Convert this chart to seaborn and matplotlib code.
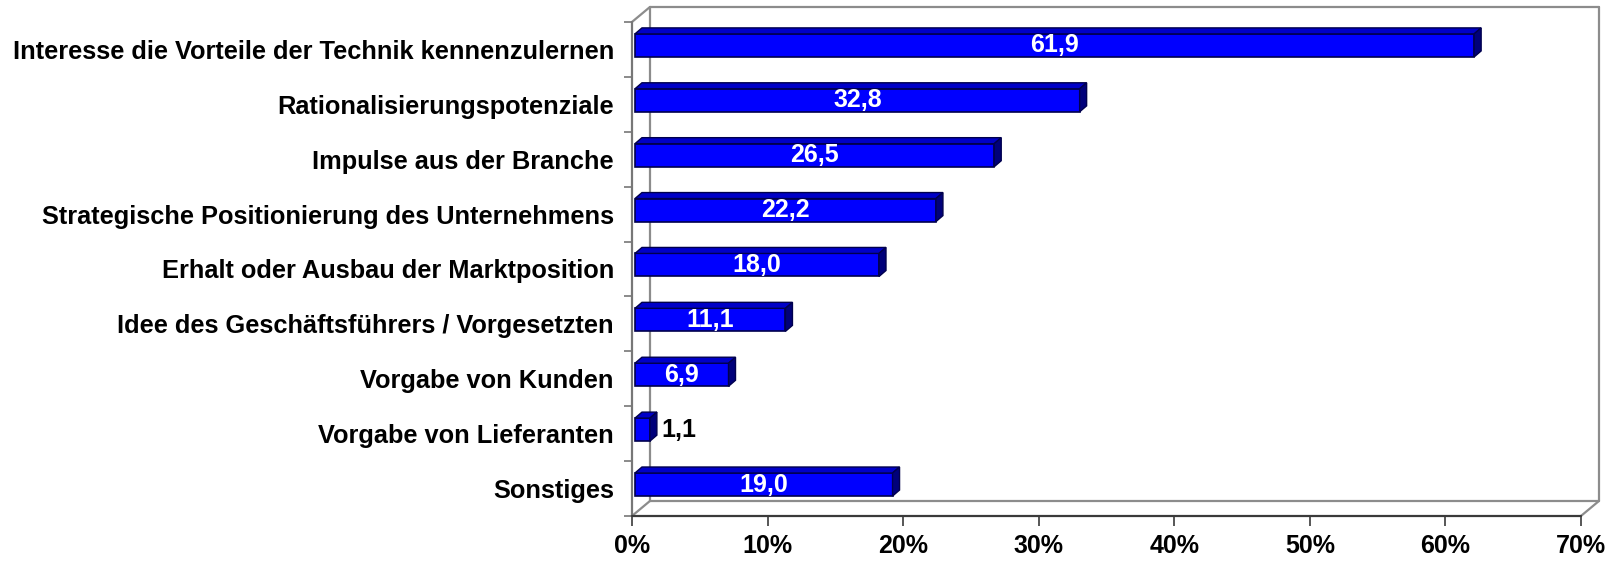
import matplotlib
matplotlib.use("Agg")
import matplotlib.pyplot as plt
import matplotlib.transforms as mtransforms
from matplotlib.patches import Polygon
import seaborn as sns
import pandas as pd

reasons = [
    "Interesse die Vorteile der Technik kennenzulernen",
    "Rationalisierungspotenziale",
    "Impulse aus der Branche",
    "Strategische Positionierung des Unternehmens",
    "Erhalt oder Ausbau der Marktposition",
    "Idee des Geschäftsführers / Vorgesetzten",
    "Vorgabe von Kunden",
    "Vorgabe von Lieferanten",
    "Sonstiges",
]
shares = [61.9, 32.8, 26.5, 22.2, 18.0, 11.1, 6.9, 1.1, 19.0]
x_ticks = [0, 10, 20, 30, 40, 50, 60, 70]
x_tick_labels = [f"{t}%" for t in x_ticks]

df = pd.DataFrame({"Grund": reasons, "Anteil": shares})

sns.set_theme(style="white")
plt.rcParams["font.family"] = ["Liberation Sans", "DejaVu Sans"]
plt.rcParams["font.weight"] = "bold"

fig = plt.figure(figsize=(16.2, 5.62), dpi=100)
fig.patch.set_facecolor("white")
ax = fig.add_axes([0.3901, 0.0819, 0.5858, 0.879])

sns.barplot(data=df, x="Anteil", y="Grund", orient="h", color="#0000ff",
            saturation=1, width=0.42, edgecolor="#00004d", linewidth=1.2, ax=ax)

x_max = x_ticks[-1]
n = len(reasons)
ax.set_xlim(0, x_max)
ax.set_ylim(n - 0.5, -0.5)
for s in ax.spines.values():
    s.set_visible(False)

# pixel -> data conversion for the pseudo 3D depth
px_x = ax.bbox.width / x_max
px_y = ax.bbox.height / n
wall_dx, wall_dy = 18 / px_x, 15 / px_y
bar_dx, bar_dy = 7 / px_x, 6 / px_y

# walls
wall_col = "#8c8c8c"
top, bot = -0.5, n - 0.5
kw = dict(color=wall_col, lw=1.6, clip_on=False, zorder=0.5)
ax.plot([wall_dx, wall_dx], [top - wall_dy, bot - wall_dy], **kw)
ax.plot([wall_dx, x_max + wall_dx], [top - wall_dy, top - wall_dy], **kw)
ax.plot([x_max + wall_dx, x_max + wall_dx], [top - wall_dy, bot - wall_dy], **kw)
ax.plot([wall_dx, x_max + wall_dx], [bot - wall_dy, bot - wall_dy], **kw)
ax.plot([0, wall_dx], [top, top - wall_dy], **kw)
ax.plot([0, wall_dx], [bot, bot - wall_dy], **kw)
ax.plot([x_max, x_max + wall_dx], [bot, bot - wall_dy], **kw)
ax.plot([0, 0], [top, bot], color="#777777", lw=1.6, clip_on=False, zorder=0.6)
ax.plot([0, x_max], [bot, bot], color="#3a3a3a", lw=1.6, clip_on=False, zorder=0.6)

# bars with top and side faces
shift = mtransforms.offset_copy(ax.transData, fig=fig, x=3, y=4, units="dots")
bars = list(ax.patches)
for bar, v in zip(bars, shares):
    bar.set_transform(shift)
    x0, y0, w, h = bar.get_x(), bar.get_y(), bar.get_width(), bar.get_height()
    top_face = Polygon([(x0, y0), (x0 + w, y0), (x0 + w + bar_dx, y0 - bar_dy),
                        (x0 + bar_dx, y0 - bar_dy)], closed=True,
                       facecolor="#0000c8", edgecolor="#00004d", lw=1.0,
                       transform=shift, zorder=2)
    side_face = Polygon([(x0 + w, y0), (x0 + w, y0 + h), (x0 + w + bar_dx, y0 + h - bar_dy),
                         (x0 + w + bar_dx, y0 - bar_dy)], closed=True,
                        facecolor="#00007a", edgecolor="#00004d", lw=1.0,
                        transform=shift, zorder=2)
    ax.add_patch(top_face)
    ax.add_patch(side_face)
    label = f"{v:.1f}".replace(".", ",")
    if v < 3:
        ax.text(x0 + w + bar_dx + 0.3, y0 + h / 2, label, transform=shift,
                ha="left", va="center", color="black", fontsize=18, fontweight="bold", zorder=3)
    else:
        ax.text(x0 + w / 2, y0 + h / 2, label, transform=shift,
                ha="center", va="center", color="white", fontsize=18, fontweight="bold", zorder=3)

# ticks
ax.set_xticks(x_ticks)
ax.set_xticklabels(x_tick_labels, fontsize=18, fontweight="bold")
ax.tick_params(axis="x", bottom=True, direction="out", length=7, width=1.2,
               color="#3a3a3a", pad=6, labelcolor="black")
ax.set_yticks(range(n))
ax.set_yticklabels(reasons, fontsize=18.3, fontweight="bold")
ax.tick_params(axis="y", left=False, length=0, pad=13, labelcolor="black")
ax.set_yticks([i - 0.5 for i in range(n + 1)], minor=True)
ax.tick_params(axis="y", which="minor", left=True, direction="out", length=6,
               width=1.2, color="#777777")
ax.set_xlabel("")
ax.set_ylabel("")
ax.grid(False)
ax.set_facecolor("none")

fig.savefig("out.png", dpi=100, facecolor="white")
